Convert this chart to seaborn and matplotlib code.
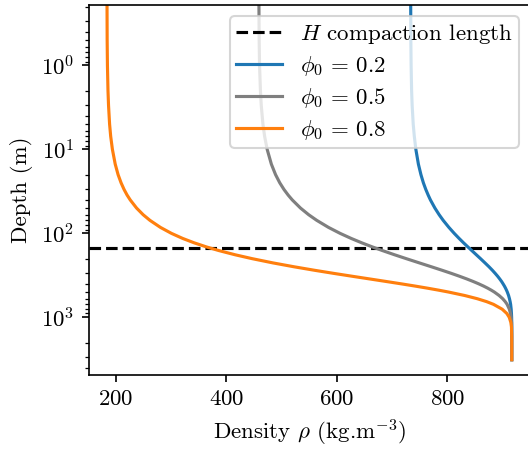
import matplotlib
matplotlib.use("Agg")
import matplotlib.pyplot as plt
import seaborn as sns

plt.rcParams.update({
    "font.family": "serif",
    "font.serif": ["cmr10", "DejaVu Serif"],
    "mathtext.fontset": "cm",
    "axes.formatter.use_mathtext": True,
    "font.size": 11,
    "axes.unicode_minus": False,
})

# depth (m)
depth = [0.1, 0.5, 1, 2, 3, 5, 7, 10, 15, 20, 25, 30, 35, 40, 50, 60, 70, 85, 100,
         115, 130, 145, 160, 180, 200, 225, 250, 275, 300, 325, 350, 375, 400, 425,
         450, 475, 500, 550, 600, 650, 700, 800, 900, 1000, 1150, 1300, 1700, 2200,
         3200]

# density (kg/m^3) for each surface porosity
rho_phi02 = [733.7, 734.1, 734.6, 735.5, 736.5, 738.4, 740.4, 743.2, 747.8, 752.4,
             756.8, 761.2, 765.5, 769.6, 777.7, 785.4, 792.7, 803.1, 812.7, 821.6,
             829.8, 837.4, 844.4, 852.8, 860.3, 868.5, 875.7, 881.8, 887.0, 891.5,
             895.3, 898.6, 901.3, 903.7, 905.7, 907.4, 908.9, 911.2, 912.8, 914.0,
             914.9, 915.9, 916.4, 916.7, 916.9, 917.0, 917.0, 917.0, 917.0]
rho_phi05 = [458.6, 459.3, 460.0, 461.6, 463.1, 466.1, 469.2, 473.8, 481.4, 489.0,
             496.6, 504.2, 511.8, 519.3, 534.2, 549.0, 563.6, 585.0, 605.9, 626.1,
             645.6, 664.3, 682.2, 704.7, 725.7, 749.7, 771.3, 790.6, 807.7, 822.7,
             835.9, 847.4, 857.4, 866.1, 873.5, 879.9, 885.4, 894.1, 900.5, 905.1,
             908.5, 912.6, 914.7, 915.8, 916.6, 916.8, 917.0, 917.0, 917.0]
rho_phi08 = [183.5, 183.9, 184.4, 185.4, 186.4, 188.3, 190.3, 193.4, 198.5, 203.7,
             209.1, 214.5, 220.0, 225.7, 237.2, 249.1, 261.4, 280.5, 300.3, 320.8,
             342.0, 363.7, 385.8, 415.9, 446.4, 484.5, 522.4, 559.3, 594.9, 628.8,
             660.7, 690.3, 717.6, 742.4, 764.7, 784.7, 802.5, 831.9, 854.4, 871.3,
             883.8, 899.6, 908.0, 912.4, 915.3, 916.4, 916.9, 917.0, 917.0]

H = 150  # compaction length (m)
labels = [r"$\phi_0 \,=\, 0.2$", r"$\phi_0 \,=\, 0.5$", r"$\phi_0 \,=\, 0.8$"]
colors = ["#1f77b4", "#7f7f7f", "#ff7f0e"]
series = [rho_phi02, rho_phi05, rho_phi08]

fig = plt.figure(figsize=(528 / 150, 451 / 150), dpi=150)
ax = fig.add_axes([89 / 528, 1 - 375 / 451, (530 - 89) / 528, 370 / 451])

ax.axhline(H, color="black", ls="--", lw=1.5, label=r"$H$ compaction length")
for rho, lab, col in zip(series, labels, colors):
    sns.lineplot(x=rho, y=depth, ax=ax, sort=False, estimator=None,
                 color=col, lw=1.5, label=lab)

ax.set_yscale("log")
ax.set_ylim(4860, 0.191)
ax.set_xlim(151, 950)
ax.set_xticks([200, 400, 600, 800])
ax.set_xlabel(r"Density $\rho$ (kg.m$^{-3}$)")
ax.set_ylabel("Depth (m)")
ax.legend(loc="upper right", labelspacing=0.35, borderpad=0.25)

fig.savefig("out.png", dpi=150)
